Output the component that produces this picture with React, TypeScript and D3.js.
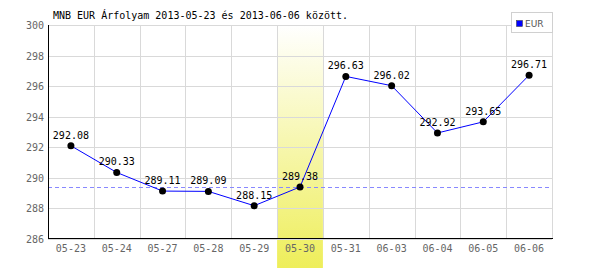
import React from "react";
import * as d3 from "d3";

const categories = ["05-23", "05-24", "05-27", "05-28", "05-29", "05-30", "05-31", "06-03", "06-04", "06-05", "06-06"];
const values = [292.08, 290.33, 289.11, 289.09, 288.15, 289.38, 296.63, 296.02, 292.92, 293.65, 296.71];
const yTicks = [286, 288, 290, 292, 294, 296, 298, 300];
const highlight = "05-30";
const title = "MNB EUR Árfolyam 2013-05-23 és 2013-06-06 között.";
const seriesName = "EUR";

const W = 600, H = 270;
const left = 48, right = 552, top = 25, bottom = 238.5;
const mono = "'DejaVu Sans Mono', monospace";

export default function App() {
  const x = d3.scaleBand<string>().domain(categories).range([left, right]);
  const y = d3.scaleLinear().domain([286, 300]).range([bottom, top]);
  const cx = (c: string) => (x(c) as number) + x.bandwidth() / 2;
  const line = d3.line<number>().x((_, i) => cx(categories[i])).y((v) => y(v));
  const hv = values[categories.indexOf(highlight)];
  const hx = x(highlight) as number;

  return (
    <svg width={W} height={H} style={{ position: "absolute", left: 0, top: 0, background: "#fff" }}>
      <defs>
        <linearGradient id="band" x1="0" y1="0" x2="0" y2="1">
          <stop offset="0" stopColor="#ffffff" />
          <stop offset="1" stopColor="#eeee5a" />
        </linearGradient>
      </defs>
      <rect x={0} y={0} width={W} height={H} fill="#fff" />
      <rect x={hx} y={top} width={x.bandwidth()} height={H - top - 2} fill="url(#band)" />
      {yTicks.map((t) => (
        <line key={"h" + t} x1={left} x2={right} y1={Math.round(y(t)) + 0.5} y2={Math.round(y(t)) + 0.5} stroke="#d9d9d9" />
      ))}
      {categories.slice(1).map((c) => (
        <line key={"v" + c} x1={Math.round(x(c) as number) + 0.5} x2={Math.round(x(c) as number) + 0.5} y1={top} y2={bottom} stroke="#d9d9d9" />
      ))}
      <line x1={right + 0.5} x2={right + 0.5} y1={top} y2={bottom} stroke="#d9d9d9" />
      <line x1={left} x2={right} y1={Math.round(y(hv)) + 0.5} y2={Math.round(y(hv)) + 0.5} stroke="#8888ff" strokeDasharray="4,3" />
      <line x1={left + 0.5} x2={left + 0.5} y1={top} y2={bottom} stroke="#000" />
      <line x1={left} x2={right + 1} y1={Math.round(bottom) - 0.5} y2={Math.round(bottom) - 0.5} stroke="#000" />
      {yTicks.map((t) => (
        <text key={"yl" + t} x={44} y={y(t) + 4} textAnchor="end" fontFamily={mono} fontSize={10} fill="#666">{t}</text>
      ))}
      {categories.map((c) => (
        <text key={"xl" + c} x={cx(c)} y={252} textAnchor="middle" fontFamily={mono} fontSize={10} fill="#666">{c}</text>
      ))}
      <path d={line(values) as string} fill="none" stroke="#0000ff" strokeWidth={1} />
      {values.map((v, i) => (
        <circle key={"p" + i} cx={cx(categories[i])} cy={y(v)} r={3.5} fill="#000" />
      ))}
      {values.map((v, i) => (
        <text key={"vl" + i} x={cx(categories[i])} y={y(v) - 7} textAnchor="middle" fontFamily={mono} fontSize={10} fill="#000">{v.toFixed(2)}</text>
      ))}
      <text x={53} y={19} fontFamily={mono} fontSize={10} fill="#000">{title}</text>
      <rect x={511.5} y={12.5} width={41} height={20} fill="#fff" stroke="#d0d0d0" />
      <rect x={516.5} y={20.5} width={6} height={6} fill="#0000ff" stroke="#333" strokeWidth={0.5} />
      <text x={525} y={27} fontFamily="'DejaVu Sans', sans-serif" fontSize={9} fill="#555">{seriesName}</text>
    </svg>
  );
}
